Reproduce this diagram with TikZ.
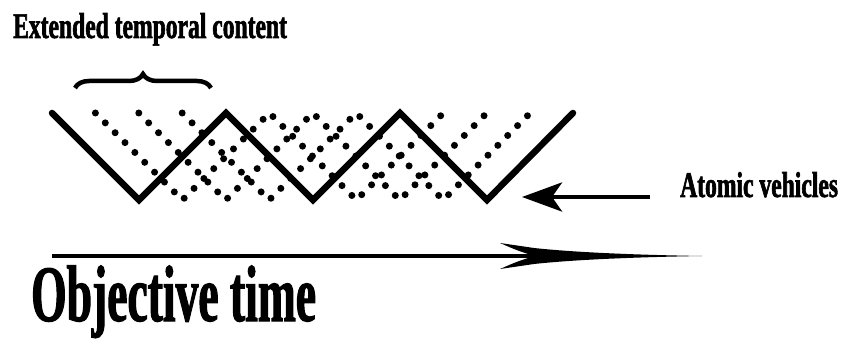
\documentclass[tikz,border=0pt]{standalone}
\usepackage{fontspec}
\newfontfamily\labelfont[FakeStretch=0.655,FakeBold=1.6]{Liberation Serif Bold}
\newfontfamily\axisfont[FakeStretch=0.57,FakeBold=1.3]{Liberation Serif Bold}
\usetikzlibrary{arrows.meta, decorations.pathreplacing}

\begin{document}
\begin{tikzpicture}[x=1pt, y=-1pt,
  worldline/.style={line width=6.5pt, line cap=round, line join=miter},
  dotline/.style={line width=7pt, line cap=round, dash pattern=on 0pt off 13.95pt},
  pointer/.style={line width=4.5pt, -{Stealth[length=40pt,width=29pt,inset=10pt]}},
  textlabel/.style={inner sep=0pt, font=\labelfont\fontsize{36}{40}\selectfont},
  axislabel/.style={inner sep=0pt, font=\axisfont\fontsize{80}{86}\selectfont}]
  \useasboundingbox (0,0) rectangle (844,339);
  % Shifted copies of the vehicle zigzag, drawn as dots
  \foreach \s in {43.4, 86.8, 130.2}
    \draw[dotline] ({52+\s},113) -- ++(87,87) -- ++(87,-87) -- ++(87,87) -- ++(87,-87);
  % Atomic vehicle zigzag
  \draw[worldline] (52,113) -- (139,200) -- (226,113) -- (313,200) -- (400,113)
    -- (487,200) -- (573,113);
  % Brace over one stretch of content
  \coordinate (bleft) at (75,88);
  \coordinate (bright) at (211,88);
  \draw[line width=4.5pt, decorate, decoration={brace, amplitude=14pt}] (bleft) -- (bright);
  % Labels
  \node[textlabel, anchor=base west] (content) at (13,38) {Extended temporal content};
  \node[textlabel, anchor=base west] (atomic) at (680,197) {Atomic vehicles};
  \node[axislabel, anchor=base west] (objective) at (31,321) {Objective time};
  % Arrows
  \coordinate (avtip) at (522,197);
  \draw[pointer, shorten <=30pt] (atomic.base west) -- (avtip);
  \coordinate (tstart) at (52,256);
  \coordinate (tend) at (702,256);
  \draw[line width=4.5pt, shorten >=150pt] (tstart) -- (tend);
  % long swept head of the time arrow
  \begin{scope}[shift={(tend)}]
    \fill (0,0) .. controls (-90,-1.5) and (-140,-5) .. (-168,-8) -- (-202,-13)
      .. controls (-186,-6) .. (-168,0) .. controls (-186,6) .. (-202,13)
      -- (-168,8) .. controls (-140,5) and (-90,1.5) .. (0,0) -- cycle;
  \end{scope}
\end{tikzpicture}
\end{document}
